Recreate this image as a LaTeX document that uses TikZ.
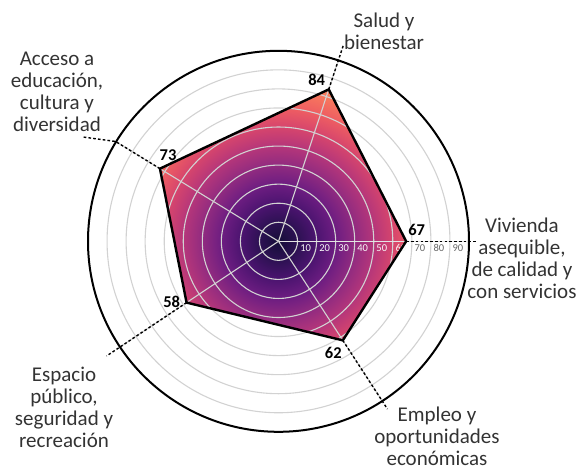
\documentclass[tikz,border=0pt]{standalone}
\usepackage{fontspec}
\setmainfont{Carlito}
\usetikzlibrary{calc}
\definecolor{m0}{HTML}{150E38}
\definecolor{m1}{HTML}{2D1153}
\definecolor{m2}{HTML}{4C1470}
\definecolor{m3}{HTML}{6D1D81}
\definecolor{m4}{HTML}{912B80}
\definecolor{m5}{HTML}{B5367A}
\definecolor{m6}{HTML}{D6456D}
\definecolor{m7}{HTML}{EE5D62}
\definecolor{m8}{HTML}{F8795D}
\definecolor{m9}{HTML}{FC9465}
\definecolor{m10}{HTML}{FDAD73}
\definecolor{gridc}{HTML}{D2D2D2}
\definecolor{txtc}{HTML}{333333}
\pgfdeclareradialshading{magmash}{\pgfpoint{0bp}{0bp}}{color(0bp)=(m0); color(2.5bp)=(m1); color(5bp)=(m2); color(7.5bp)=(m3); color(10bp)=(m4); color(12.5bp)=(m5); color(15bp)=(m6); color(17.5bp)=(m7); color(20bp)=(m8); color(22.5bp)=(m9); color(25bp)=(m10); color(50bp)=(m10)}
\tikzset{
  gridline/.style={draw=gridc, line width=1.1pt},
  leader/.style={draw=black, line width=1.4pt, dash pattern=on 2.6pt off 2.2pt},
  catlabel/.style={align=center, text=txtc, font=\fontsize{21}{22}\selectfont, inner sep=0pt},
  vallabel/.style={font=\fontsize{16.5}{18}\selectfont\bfseries, text=black, inner sep=0pt},
  ticklab/.style={font=\fontsize{10.5}{11}\selectfont, anchor=west, inner sep=0pt},
}
\begin{document}
\begin{tikzpicture}[x=1pt, y=-1pt]
\useasboundingbox (0,0) rectangle (578,466);
\def\U{1.905}
\def\R{190.5}
\coordinate (c) at (278.5,241.3);
% vertices
\coordinate (pv) at ($(c)+(0:{67*\U})$);
\coordinate (ps) at ($(c)+(-71.7:{84*\U})$);
\coordinate (pa) at ($(c)+(-148.5:{73*\U})$);
\coordinate (pe) at ($(c)+(-213.7:{58*\U})$);
\coordinate (pm) at ($(c)+(-303:{62*\U})$);
% axis ends
\coordinate (ev) at ($(c)+(0:{100*\U})$);
\coordinate (es) at ($(c)+(-71.7:{100*\U})$);
\coordinate (ea) at ($(c)+(-148.5:{100*\U})$);
\coordinate (ee) at ($(c)+(-213.7:{100*\U})$);
\coordinate (em) at ($(c)+(-303:{100*\U})$);
% fill
\begin{scope}
\clip (pv) -- (ps) -- (pa) -- (pe) -- (pm) -- cycle;
\shade[shading=magmash] (c) circle (\R);
\end{scope}
% grid rings
\foreach \k in {10,20,...,90} {
  \draw[gridline] (c) circle ({\k*\U});
}
% spokes
\foreach \p in {es,ea,ee,em} { \draw[gridline] (c) -- (\p); }
\draw[draw=gridc!60!white, line width=1.5pt] (c) -- (ev);
% tick labels
\foreach \k in {10,20,...,60} {
  \node[ticklab, text=white!85!gridc] (t\k) at ($(c)+({\k*\U+2.5},6.5)$) {\k};
}
\foreach \k in {70,80,90} {
  \node[ticklab, text=black!60] (t\k) at ($(c)+({\k*\U+2.5},6.5)$) {\k};
}
% polygon outline
\draw[black, line width=2.4pt, line join=miter] (pv) -- (ps) -- (pa) -- (pe) -- (pm) -- cycle;
% outer circle
\draw[black, line width=2pt] (c) circle (\R);
% leaders
\coordinate (ls) at ($(c)+(-71.7:{108.5*\U})$);
\coordinate (lab) at ($(c)+(-148.5:{100.3*\U})$);
\coordinate (la) at (83,137);
\coordinate (le) at ($(c)+(-213.7:{108.5*\U})$);
\coordinate (lm) at ($(c)+(-303:{105*\U})$);
\coordinate (lv) at ($(c)+(0:{104.5*\U})$);
\draw[leader] (pv) -- (lv);
\draw[leader] (ps) -- (ls);
\draw[leader] (pa) -- (lab) -- (la);
\draw[leader] (pe) -- (le);
\draw[leader] (pm) -- (lm);
% value labels
\node[vallabel] (n84) at (316.7,80) {84};
\node[vallabel] (n73) at (168,155) {73};
\node[vallabel] (n67) at (416.7,230) {67};
\node[vallabel] (n58) at (171.7,301.7) {58};
\node[vallabel] (n62) at (333.3,352.7) {62};
% category labels
\node[catlabel] (salud) at (384,31) {Salud y\\bienestar};
\node[catlabel] (acceso) at (57,92) {Acceso a\\educación,\\cultura y\\diversidad};
\node[catlabel] (vivienda) at (522,258) {Vivienda\\asequible,\\de calidad y\\con servicios};
\node[catlabel] (espacio) at (64,407) {Espacio\\público,\\seguridad y\\recreación};
\node[catlabel] (empleo) at (437,436) {Empleo y\\oportunidades\\económicas};
\end{tikzpicture}
\end{document}
